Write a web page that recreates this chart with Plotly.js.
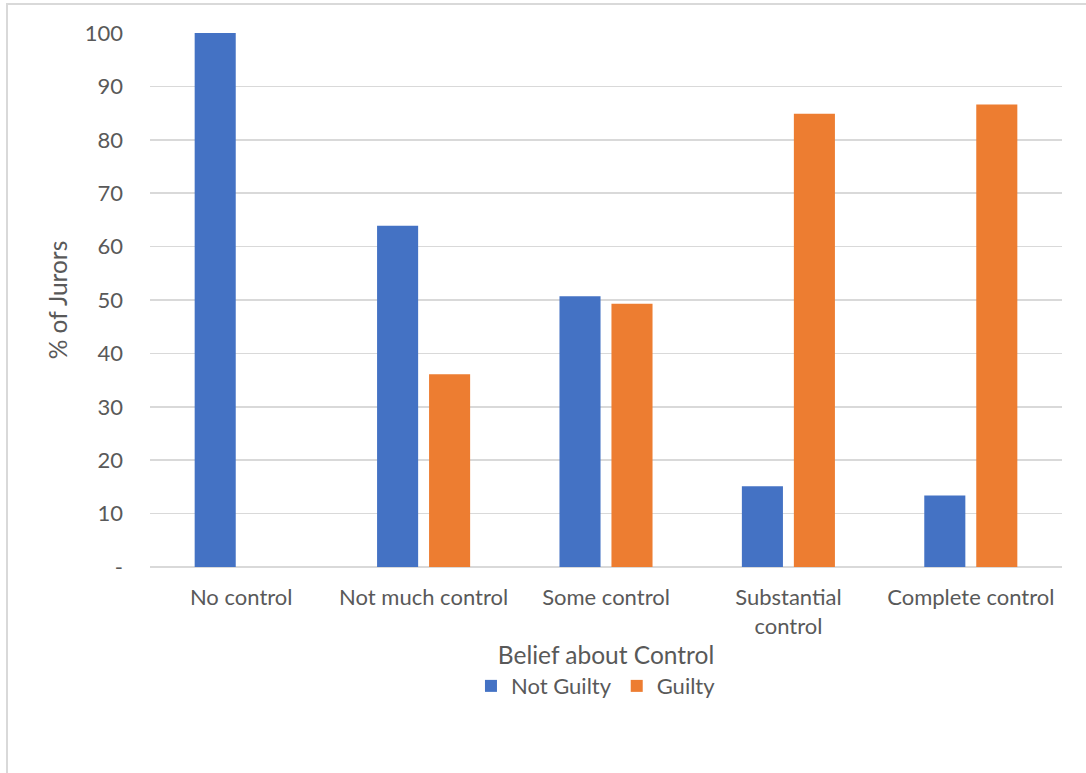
<!DOCTYPE html>
<html>
<head>
<meta charset="utf-8">
<script src="https://cdn.plot.ly/plotly-3.0.1.min.js"></script>
<style>
  html, body { margin: 0; padding: 0; width: 1086px; height: 773px; overflow: hidden; background: #ffffff; }
  #frame { position: absolute; left: 6px; top: 3px; width: 1200px; height: 900px; border: 2px solid #d9d9d9; box-sizing: border-box; }
  #chart { position: absolute; left: 0; top: 0; width: 1086px; height: 773px; }
</style>
</head>
<body>
<div id="frame"></div>
<div id="chart"></div>
<script>
const categories = ["No control", "Not much control", "Some control", "Substantial<br>control", "Complete control"];
const notGuilty = [100, 63.9, 50.7, 15.1, 13.4];
const guilty = [0, 36.1, 49.3, 84.9, 86.6];
const yTickVals = [0, 10, 20, 30, 40, 50, 60, 70, 80, 90, 100];
const yTickText = ["-", "10", "20", "30", "40", "50", "60", "70", "80", "90", "100"];

const fontFamily = "Lato, 'Noto Sans', 'Liberation Sans', sans-serif";
const textColor = "#595959";

const traces = [
  { type: "bar", name: "Not Guilty", x: categories, y: notGuilty, marker: { color: "#4472c4" }, hoverinfo: "x+y" },
  { type: "bar", name: "Guilty", x: categories, y: guilty, marker: { color: "#ed7d31" }, hoverinfo: "x+y" }
];

const layout = {
  width: 1086, height: 773,
  margin: { l: 150, r: 24, t: 33, b: 206 },
  paper_bgcolor: "rgba(0,0,0,0)",
  plot_bgcolor: "rgba(0,0,0,0)",
  font: { family: fontFamily, color: textColor, size: 22 },
  barmode: "group",
  bargap: 0.43,
  bargroupgap: 0.21,
  showlegend: true,
  legend: { orientation: "h", x: 0.489, xanchor: "center", y: -0.223, yanchor: "middle", font: { size: 22, color: textColor }, itemwidth: 30, tracegroupgap: 0 },
  xaxis: {
    type: "category",
    showgrid: false,
    showline: false,
    zeroline: false,
    ticks: "",
    tickfont: { size: 22, color: textColor },
    ticklabelstandoff: 15,
    title: { text: "Belief about Control", font: { size: 24.5, color: textColor }, standoff: 9 },
    automargin: false
  },
  yaxis: {
    range: [0, 100],
    tickvals: yTickVals,
    ticktext: yTickText,
    showgrid: true,
    gridcolor: "#d9d9d9",
    gridwidth: 1.5,
    zeroline: true,
    zerolinecolor: "#d9d9d9",
    zerolinewidth: 1.5,
    showline: false,
    ticks: "",
    tickfont: { size: 22, color: textColor },
    ticklabelstandoff: 26,
    title: { text: "% of Jurors", font: { size: 24.5, color: textColor }, standoff: 10 },
    automargin: false,
    fixedrange: true
  }
};

Plotly.newPlot("chart", traces, layout, { displayModeBar: false, staticPlot: true });
</script>
</body>
</html>
